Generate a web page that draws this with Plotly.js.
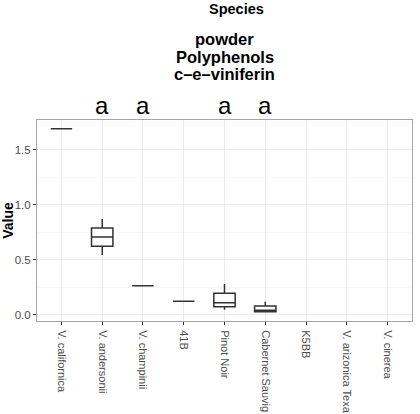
<!DOCTYPE html>
<html>
<head>
<meta charset="utf-8">
<script src="https://cdn.plot.ly/plotly-3.0.1.min.js"></script>
<style>html,body{margin:0;padding:0;background:#fff;}#chart{width:420px;height:414px;}</style>
</head>
<body>
<div id="chart"></div>
<script>
// All categories on the x axis (labels as visible in the reference)
const categories = ["V. californica", "V. andersonii", "V. champinii", "41B", "Pinot Noir",
  "Cabernet Sauvig", "K5BB", "V. arizonica Texa", "V. cinerea"];
// Categories that have data, and their box statistics
const boxCategories = ["V. californica", "V. andersonii", "V. champinii", "41B", "Pinot Noir", "Cabernet Sauvig"];
const lowerWhisker = [1.69, 0.543, 0.264, 0.122, 0.045, 0.027];
const q1Values     = [1.69, 0.622, 0.264, 0.122, 0.073, 0.027];
const medianValues = [1.69, 0.706, 0.264, 0.122, 0.108, 0.040];
const q3Values     = [1.69, 0.788, 0.264, 0.122, 0.195, 0.079];
const upperWhisker = [1.69, 0.870, 0.264, 0.122, 0.280, 0.118];
// Significance letters
const letterCategories = ["V. andersonii", "V. champinii", "Pinot Noir", "Cabernet Sauvig"];
const letterLabels = ["a", "a", "a", "a"];
const yTicks = [0.0, 0.5, 1.0, 1.5];
const yTickLabels = ["0.0", "0.5", "1.0", "1.5"];
const titleLines = ["powder", "Polyphenols", "c\u2013e\u2013viniferin"];
const legendTitle = "Species";

const trace = {
  type: "box",
  x: boxCategories,
  lowerfence: lowerWhisker,
  q1: q1Values,
  median: medianValues,
  q3: q3Values,
  upperfence: upperWhisker,
  boxpoints: false,
  fillcolor: "#ffffff",
  line: {color: "#333333", width: 1.5},
  whiskerwidth: 0,
  hoverinfo: "skip",
  showlegend: false
};

const annotations = [];
letterCategories.forEach((c, i) => {
  annotations.push({
    x: c, xref: "x", y: 1, yref: "paper", yanchor: "middle", yshift: 15,
    text: letterLabels[i], showarrow: false,
    font: {family: "Liberation Sans, Arial, sans-serif", size: 24, color: "#000"}
  });
});
const titleShifts = [81, 63, 46];
titleLines.forEach((t, i) => {
  annotations.push({
    x: 0.5, xref: "paper", y: 1, yref: "paper", yanchor: "middle", yshift: titleShifts[i],
    text: "<b>" + t + "</b>", showarrow: false,
    font: {family: "Liberation Sans, Arial, sans-serif", size: 16.5, color: "#000"}
  });
});
annotations.push({
  x: 0.533, xref: "paper", y: 1, yref: "paper", yanchor: "middle", yshift: 111,
  text: "<b>" + legendTitle + "</b>", showarrow: false,
  font: {family: "Liberation Sans, Arial, sans-serif", size: 14.5, color: "#000"}
});

const layout = {
  width: 420, height: 414,
  margin: {l: 37, r: 8, t: 120, b: 93, pad: 0},
  paper_bgcolor: "#ffffff",
  plot_bgcolor: "#ffffff",
  font: {family: "Liberation Sans, Arial, sans-serif"},
  boxgap: 0.25,
  xaxis: {
    type: "category",
    categoryorder: "array",
    categoryarray: categories,
    range: [-0.6, 8.6],
    tickangle: 90,
    tickfont: {size: 11, color: "#4d4d4d"},
    ticklabelstandoff: 3,
    ticks: "outside", ticklen: 3, tickcolor: "#333333", tickwidth: 1,
    showgrid: true, gridcolor: "#ebebeb", gridwidth: 1,
    showline: true, mirror: true, linecolor: "#a6a6a6", linewidth: 1,
    zeroline: false, automargin: false, fixedrange: true
  },
  yaxis: {
    range: [-0.057, 1.77],
    tickmode: "array",
    tickvals: yTicks,
    ticktext: yTickLabels,
    tickfont: {size: 11.5, color: "#4d4d4d"},
    ticks: "outside", ticklen: 3, tickcolor: "#333333", tickwidth: 1,
    showgrid: true, gridcolor: "#ebebeb", gridwidth: 1,
    minor: {tickmode: "linear", tick0: 0.25, dtick: 0.5, showgrid: true, gridcolor: "#f4f4f4", gridwidth: 0.6, ticks: ""},
    showline: true, mirror: true, linecolor: "#a6a6a6", linewidth: 1,
    zeroline: false, automargin: false, fixedrange: true,
    title: {text: "<b>Value</b>", font: {size: 14, color: "#000"}, standoff: 4}
  },
  annotations: annotations,
  showlegend: false
};

Plotly.newPlot("chart", [trace], layout, {displayModeBar: false, staticPlot: true});
</script>
</body>
</html>
